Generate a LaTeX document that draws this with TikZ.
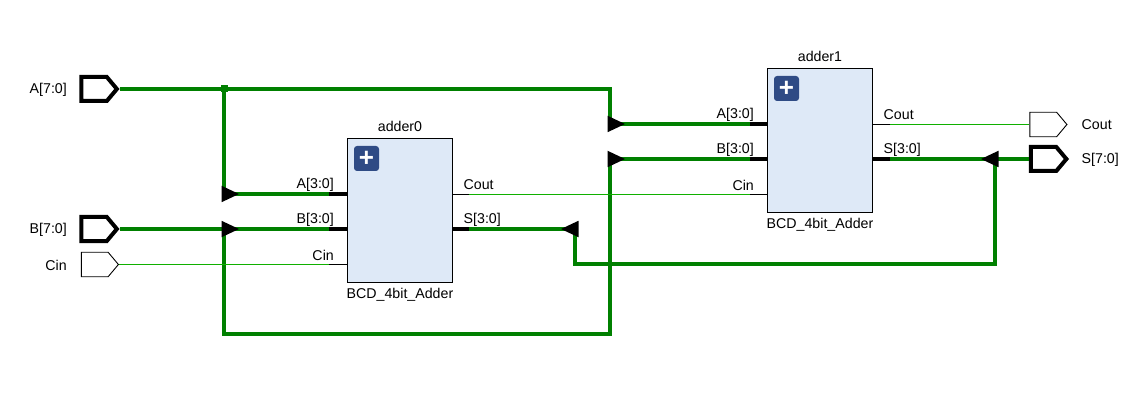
\documentclass[tikz,border=0pt]{standalone}
\usepackage{fontspec}
\setmainfont{Liberation Sans}
\usetikzlibrary{shapes.geometric,shapes.symbols}
\definecolor{busgreen}{HTML}{008000}
\definecolor{netgreen}{HTML}{10B000}
\definecolor{cellblue}{HTML}{DEE9F7}
\definecolor{plusblue}{HTML}{2F4B85}
\tikzset{
  txt/.style={inner sep=0pt,font=\fontsize{14.2}{16}\selectfont},
  bus/.style={draw=busgreen,line width=3.6pt},
  net/.style={draw=netgreen,line width=1.3pt},
  buspin/.style={draw=black,line width=3.6pt},
  netpin/.style={draw=black,line width=1pt},
  cell/.style={draw=black,line width=1pt,fill=cellblue,minimum width=105pt,minimum height=144pt,inner sep=0pt},
  plusbtn/.style={fill=plusblue,rounded corners=3pt,minimum size=25pt,inner sep=0pt,text=white,font=\fontsize{26}{26}\bfseries\selectfont},
  busport/.style={draw=black,line width=4pt,fill=white,shape=signal,signal to=east,signal pointer angle=100,minimum width=35.5pt,minimum height=24pt,inner sep=0pt},
  netport/.style={draw=black,line width=0.9pt,fill=white,shape=signal,signal to=east,signal pointer angle=100,minimum width=37pt,minimum height=24.5pt,inner sep=0pt},
  tipr/.style={fill=black,shape=isosceles triangle,isosceles triangle stretches,minimum width=16.5pt,minimum height=17.5pt,inner sep=0pt,outer sep=0pt,anchor=apex},
  tipl/.style={tipr,shape border rotate=180},
  dot/.style={fill=busgreen,minimum size=7pt,inner sep=0pt}
}
\begin{document}
\begin{tikzpicture}[x=1pt,y=-1pt]

\useasboundingbox (0,0) rectangle (1140,414);

% ports
\node[busport,anchor=east] (portA) at (119.5,89) {};
\node[busport,anchor=east] (portB) at (119.5,229) {};
\node[netport,anchor=east] (portCin) at (119,264.5) {};
\node[netport,anchor=east] (portCout) at (1067.5,124.5) {};
\node[busport,anchor=east] (portS) at (1069,159) {};

\node[txt,anchor=east] (labA) at (67,90) {A[7:0]};
\node[txt,anchor=east] (labB) at (67,230) {B[7:0]};
\node[txt,anchor=east] (labCin) at (67,265) {Cin};
\node[txt,anchor=west] (labCout) at (1081.5,125) {Cout};
\node[txt,anchor=west] (labS) at (1081.5,160) {S[7:0]};

% cells
\node[cell] (adder0) at (400,210.3) {};
\node[cell] (adder1) at (820,140.3) {};
\node[plusbtn] (plus0) at (366.5,158.5) {+};
\node[plusbtn] (plus1) at (786.5,88.5) {+};
\node[txt] (name0) at (400,126.5) {adder0};
\node[txt] (name1) at (820,56.5) {adder1};
\node[txt] (type0) at (400,295) {BCD\_4bit\_Adder};
\node[txt] (type1) at (820,225) {BCD\_4bit\_Adder};

% pin ends
\coordinate (a0A) at (329,194);
\coordinate (a0B) at (329,229);
\coordinate (a0Cin) at (329,264.5);
\coordinate (a0Cout) at (469,194.3);
\coordinate (a0S) at (469,229);
\coordinate (a1A) at (750,124);
\coordinate (a1B) at (750,159);
\coordinate (a1Cin) at (750,194.3);
\coordinate (a1Cout) at (890,124.5);
\coordinate (a1S) at (890,159);

% bends
\coordinate (jA) at (224,89);
\coordinate (bendA) at (610,89);
\coordinate (cornerB) at (224,333.7);
\coordinate (cornerC) at (610,333.7);
\coordinate (bendS0) at (575,263.7);
\coordinate (bendS1) at (995,263.7);

% wires
\draw[bus] (portA.east) -- (bendA) -- (bendA |- a1A) -- (a1A);
\draw[bus] (jA) -- (jA |- a0A) -- (a0A);
\draw[bus] (portB.east) -- (a0B);
\draw[bus] (a0B -| cornerB) -- (cornerB) -- (cornerC) -- (cornerC |- a1B) -- (a1B);
\draw[bus] (a0S) -- (a0S -| bendS0) -- (bendS0) -- (bendS1) -- (bendS1 |- a1S);
\draw[bus] (a1S) -- (portS.west);
\draw[net] (portCin.east) -- (a0Cin);
\draw[net] (a0Cout) -- (a1Cin);
\draw[net] (a1Cout) -- (portCout.west);

% pin stubs
\draw[buspin] (a0A) -- (a0A -| adder0.west);
\draw[buspin] (a0B) -- (a0B -| adder0.west);
\draw[netpin] (a0Cin) -- (a0Cin -| adder0.west);
\draw[netpin] (a0Cout) -- (a0Cout -| adder0.east);
\draw[buspin] (a0S) -- (a0S -| adder0.east);
\draw[buspin] (a1A) -- (a1A -| adder1.west);
\draw[buspin] (a1B) -- (a1B -| adder1.west);
\draw[netpin] (a1Cin) -- (a1Cin -| adder1.west);
\draw[netpin] (a1Cout) -- (a1Cout -| adder1.east);
\draw[buspin] (a1S) -- (a1S -| adder1.east);

% junctions
\node[dot] (dotA) at (jA) {};
\node[tipr] (tipA0) at (239,194) {};
\node[tipr] (tipB0) at (239,229) {};
\node[tipr] (tipA1) at (625,124) {};
\node[tipr] (tipB1) at (625,159) {};
\node[tipl] (tipS0) at (561,229) {};
\node[tipl] (tipS1) at (981,159) {};

% pin labels
\node[txt,anchor=east] (pA0) at (334,185) {A[3:0]};
\node[txt,anchor=east] (pB0) at (334,220) {B[3:0]};
\node[txt,anchor=east] (pC0) at (334,255) {Cin};
\node[txt,anchor=west] (pO0) at (463.5,185) {Cout};
\node[txt,anchor=west] (pS0) at (463.5,220) {S[3:0]};
\node[txt,anchor=east] (pA1) at (754,115) {A[3:0]};
\node[txt,anchor=east] (pB1) at (754,150) {B[3:0]};
\node[txt,anchor=east] (pC1) at (754,185) {Cin};
\node[txt,anchor=west] (pO1) at (883.5,115) {Cout};
\node[txt,anchor=west] (pS1) at (883.5,150) {S[3:0]};

\end{tikzpicture}
\end{document}
